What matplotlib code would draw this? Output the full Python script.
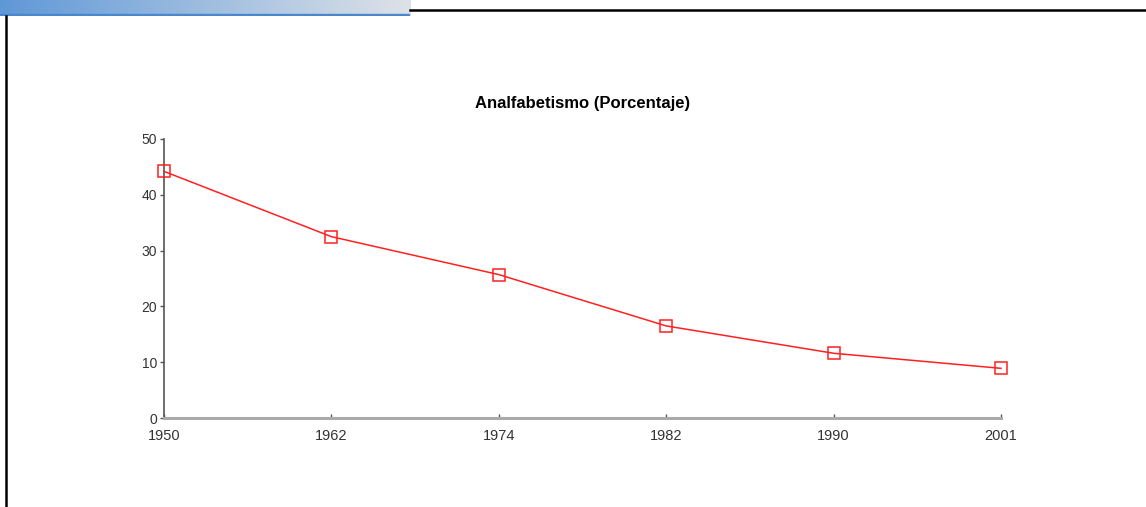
import numpy as np
import matplotlib.pyplot as plt
from matplotlib.lines import Line2D

years = ['1950', '1962', '1974', '1982', '1990', '2001']
porcentaje = [44.2, 32.5, 25.7, 16.5, 11.6, 8.9]
yticks = [0, 10, 20, 30, 40, 50]

plt.rcParams['font.family'] = ['Liberation Sans', 'DejaVu Sans']

fig = plt.figure(figsize=(11.46, 5.07), dpi=100)

# decorative slide header: gradient bar + lines
bar = fig.add_axes([0, 1 - 16 / 507, 410 / 1146, 16 / 507])
grad = np.linspace(0, 1, 256)
c0 = np.array([95, 152, 215]) / 255
c1 = np.array([222, 226, 232]) / 255
img = (c0[None, :] * (1 - grad[:, None]) + c1[None, :] * grad[:, None])[None, :, :]
bar.imshow(img, aspect='auto', extent=[0, 1, 0, 1])
bar.axhspan(0, 0.15, color=(75 / 255, 135 / 255, 205 / 255))
bar.set_axis_off()

fig.add_artist(Line2D([410 / 1146, 1], [1 - 10 / 507] * 2, color='black', lw=1.8))
fig.add_artist(Line2D([6 / 1146] * 2, [0, 1 - 16 / 507], color='black', lw=1.8))

ax = fig.add_axes([164 / 1146, 1 - 418 / 507, 837 / 1146, 279 / 507])
x = np.arange(len(years))
ax.plot(x, porcentaje, color='#ff2020', lw=1.1, marker='s', markersize=9,
        markerfacecolor='none', markeredgecolor='#ff2020', markeredgewidth=1.1,
        clip_on=False, zorder=3)

ax.set_xlim(0, len(years) - 1)
ax.set_ylim(0, 50)
ax.set_xticks(x)
ax.set_xticklabels(years)
ax.set_yticks(yticks)

for s in ['top', 'right']:
    ax.spines[s].set_visible(False)
ax.spines['left'].set_color('#555555')
ax.spines['left'].set_linewidth(1.2)
ax.spines['bottom'].set_color('#aaaaaa')
ax.spines['bottom'].set_linewidth(2.2)

ax.tick_params(axis='y', length=3, width=1, color='#555555', pad=2,
               labelsize=10, labelcolor='#333333')
ax.tick_params(axis='x', length=3, width=1, color='#555555', pad=8, direction='in',
               labelsize=10.5, labelcolor='#333333')

ax.set_title('Analfabetismo (Porcentaje)', fontsize=12, fontweight='bold', pad=22)

fig.savefig('out.png', dpi=100)
